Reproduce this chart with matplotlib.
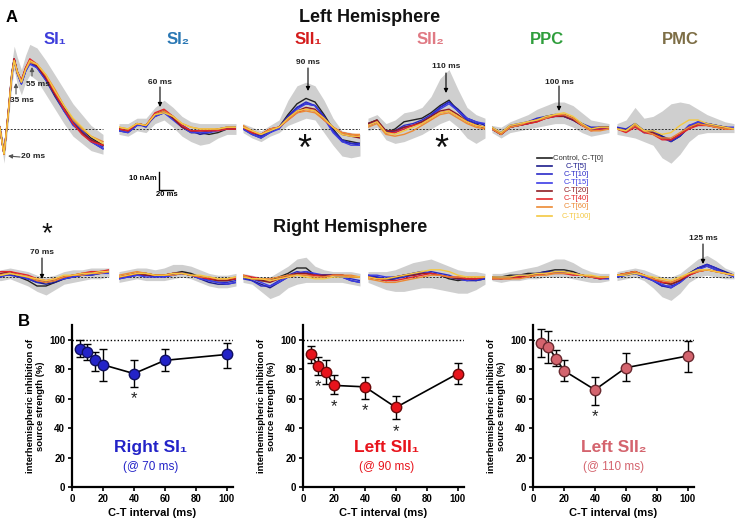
import numpy as np
import matplotlib.pyplot as plt

plt.rcParams['font.family'] = ['Liberation Sans', 'DejaVu Sans']

W, H = 736, 524

# ---- panel A: source waveforms (nAm), sampled at these latencies (ms)
T = [0, 15, 30, 45, 60, 75, 90, 105, 120, 135, 150, 165, 180, 195]
T_SI1 = [13, 20, 27, 33, 37, 42, 49, 56, 63, 75, 90, 105, 120, 135, 150, 165, 185]

CONDITIONS = ['Control, C-T[0]', 'C-T[5]', 'C-T[10]', 'C-T[15]',
              'C-T[20]', 'C-T[40]', 'C-T[60]', 'C-T[100]']
COND_COLORS = ['#222222', '#1c1c8c', '#2a2ac8', '#3c3ce6',
               '#8e1c22', '#e3262a', '#ec8a34', '#f4c842']

# left hemisphere, rows = conditions in CONDITIONS order
LH_SI1 = [
    [1, -14, 8, 30, 39, 32, 26, 33, 38, 35, 28, 20, 12, 5, 0, -5, -9],
    [1, -14, 9, 31, 39, 31, 25, 32, 37, 34, 27, 18, 10, 3, -2, -7, -11],
    [1, -14, 8, 30, 38, 31, 26, 33, 37, 35, 29, 20, 11, 4, -1, -6, -10],
    [1, -13, 8, 29, 38, 31, 25, 32, 36, 34, 27, 19, 10, 2, -2, -7, -11],
    [1, -14, 9, 31, 39, 32, 27, 34, 38, 35, 28, 19, 11, 3, -2, -6, -9],
    [1, -14, 9, 30, 39, 32, 27, 34, 39, 36, 29, 20, 11, 3, -3, -7, -9],
    [1, -14, 8, 30, 38, 31, 26, 33, 37, 36, 30, 22, 13, 5, 0, -4, -7],
    [1, -14, 8, 30, 38, 32, 26, 33, 38, 36, 30, 21, 13, 6, 1, -4, -8],
]
LH_SI1_HI = [3, -9, 14, 37, 46, 40, 33, 41, 47, 45, 38, 30, 22, 14, 8, 2, -3]
LH_SI1_LO = [-2, -19, 3, 24, 33, 25, 19, 26, 30, 27, 19, 11, 3, -4, -8, -12, -14]

LH_SI2 = [
    [0, -1, 3, 2, 8, 10, 6, 1, -2, -2, -3, -2, 0, 0],
    [-1, -2, 2, 2, 7, 9, 6, 2, -1, -3, -2, 0, 1, 1],
    [0, -1, 3, 1, 8, 10, 7, 2, -1, -2, -1, 0, 0, 1],
    [-1, -2, 2, 2, 7, 9, 5, 1, -2, -2, -2, -1, 0, 0],
    [0, -1, 3, 2, 8, 10, 6, 1, -1, -1, -1, 0, 0, 0],
    [0, -1, 3, 2, 9, 11, 7, 2, -1, -1, -1, -1, 0, 0],
    [1, 0, 3, 2, 8, 10, 7, 3, 1, 0, 0, 0, 1, 1],
    [1, 0, 3, 2, 8, 9, 7, 3, 1, 0, 0, 0, 1, 1],
]
LH_SI2_HI = [3, 3, 6, 6, 12, 16, 12, 7, 4, 3, 3, 3, 3, 3]
LH_SI2_LO = [-3, -4, -1, -2, 3, 5, 1, -4, -7, -9, -8, -5, -3, -3]

LH_SII1 = [
    [1, -2, -4, -1, 1, 8, 14, 17, 15, 8, 0, -6, -7, -8],
    [0, -3, -5, -2, 1, 7, 12, 14, 13, 7, -1, -7, -8, -9],
    [1, -2, -4, -1, 1, 7, 12, 15, 13, 7, -1, -6, -8, -8],
    [0, -3, -5, -2, 0, 6, 11, 14, 13, 6, -2, -7, -9, -9],
    [1, -2, -3, 0, 1, 6, 10, 12, 11, 6, 1, -3, -4, -5],
    [1, -2, -3, 0, 1, 5, 9, 11, 10, 5, 1, -2, -3, -4],
    [2, -1, -3, 0, 1, 5, 9, 10, 9, 5, 1, -2, -3, -3],
    [1, -1, -3, -1, 1, 6, 10, 11, 10, 6, 1, -3, -4, -4],
]
LH_SII1_HI = [3, 1, -1, 2, 5, 16, 24, 26, 24, 16, 6, -1, -2, -3]
LH_SII1_LO = [-2, -5, -7, -4, -2, 2, 4, 6, 5, -2, -9, -15, -16, -15]

LH_SII2 = [
    [3, 5, -2, 0, 4, 5, 6, 9, 13, 16, 10, 5, 3, 0],
    [2, 4, -2, -1, 1, 2, 4, 7, 12, 15, 11, 6, 4, 2],
    [3, 4, -1, -1, 2, 3, 5, 8, 12, 15, 10, 5, 3, 3],
    [2, 4, -2, -2, 1, 2, 4, 7, 11, 14, 10, 6, 4, 3],
    [3, 5, -1, -1, 1, 2, 4, 7, 10, 11, 8, 4, 2, 1],
    [2, 4, -2, -2, 0, 2, 3, 6, 9, 10, 7, 4, 2, 1],
    [1, 3, -3, -4, -3, -1, 2, 5, 8, 9, 6, 3, 1, 0],
    [2, 4, -2, -3, -1, 1, 3, 6, 9, 10, 7, 4, 2, 1],
]
LH_SII2_HI = [6, 8, 3, 5, 9, 10, 12, 18, 28, 33, 22, 12, 8, 6]
LH_SII2_LO = [-1, 1, -6, -8, -7, -5, -3, 0, 3, 5, 1, -5, -8, -5]

LH_PPC = [
    [0, -3, 1, 2, 3, 5, 7, 8, 8, 6, 3, 0, 1, 1],
    [0, -3, 1, 2, 4, 5, 6, 8, 7, 5, 2, 0, 0, 1],
    [1, -2, 2, 3, 4, 6, 7, 8, 7, 5, 3, 1, 1, 1],
    [0, -3, 1, 2, 3, 5, 6, 7, 7, 5, 2, 0, 0, 0],
    [0, -3, 1, 2, 3, 4, 6, 7, 7, 5, 2, 0, 1, 1],
    [0, -3, 1, 2, 3, 4, 6, 7, 8, 6, 2, -1, 0, 0],
    [0, -3, 1, 2, 4, 5, 6, 8, 8, 6, 2, -1, -1, 0],
    [1, -2, 2, 3, 4, 5, 7, 8, 9, 7, 3, 0, 1, 1],
]
LH_PPC_HI = [2, 1, 4, 6, 8, 11, 13, 15, 15, 13, 9, 5, 4, 3]
LH_PPC_LO = [-2, -5, -2, -1, 0, 1, 2, 3, 3, 1, -2, -4, -3, -2]

LH_PMC = [
    [0, -1, 3, -1, -1, -4, -7, -4, 1, 3, 3, 2, 1, 0],
    [0, -1, 2, -2, -1, -4, -6, -3, 2, 3, 3, 2, 1, 0],
    [1, 0, 3, -1, -1, -5, -7, -4, 1, 4, 3, 2, 1, 0],
    [0, -1, 2, -2, -2, -5, -6, -3, 2, 4, 3, 2, 1, 1],
    [0, -1, 2, -1, -2, -5, -6, -3, 1, 2, 2, 1, 1, 0],
    [0, -2, 1, -2, -3, -6, -6, -3, 0, 2, 2, 1, 0, 0],
    [0, -1, 2, -1, -3, -5, -5, -2, 1, 3, 2, 1, 0, 0],
    [0, -1, 3, -1, -1, -3, -2, 2, 5, 5, 3, 2, 1, 0],
]
LH_PMC_HI = [3, 5, 12, 6, 7, 10, 14, 15, 14, 11, 8, 6, 4, 3]
LH_PMC_LO = [-3, -4, -5, -7, -9, -16, -19, -14, -7, -3, -2, -2, -2, -2]

# right hemisphere
RH_SI1 = [
    [0, 0, 2, 0, -2, -5, -5, -3, -1, 0, 1, 1, 2, 3],
    [1, 1, 2, 1, -1, -3, -4, -3, -1, 0, 1, 2, 2, 3],
    [0, 1, 1, 0, -1, -3, -3, -2, 0, 1, 1, 2, 3, 3],
    [1, 0, 2, 1, -1, -2, -3, -2, -1, 0, 1, 1, 2, 2],
    [1, 2, 3, 1, 0, -2, -3, -2, 0, 1, 2, 2, 3, 3],
    [2, 3, 3, 2, 1, -1, -2, -1, 0, 1, 2, 3, 3, 4],
    [1, 1, 2, 1, 0, -2, -3, -2, 0, 1, 1, 2, 2, 3],
    [1, 1, 2, 1, 0, -1, -2, -1, 1, 1, 2, 2, 3, 3],
]
RH_SI1_HI = [3, 4, 5, 4, 3, 1, 0, 1, 3, 4, 4, 5, 5, 5]
RH_SI1_LO = [-2, -2, -1, -3, -5, -8, -10, -7, -4, -3, -2, -1, -1, 0]

RH_SI2 = [
    [0, 1, 2, 2, 1, 1, 2, 3, 2, 0, -1, -2, -2, -1],
    [-1, 0, 1, 1, 0, 1, 2, 2, 1, -1, -3, -4, -4, -3],
    [0, 0, 1, 1, 1, 0, 1, 2, 1, 0, -2, -3, -3, -2],
    [-1, 0, 1, 0, 0, 0, 1, 2, 1, -1, -2, -3, -4, -3],
    [0, 1, 2, 1, 1, 1, 2, 2, 1, 0, -1, -2, -2, -1],
    [0, 1, 2, 2, 1, 1, 2, 2, 1, 0, -1, -1, -1, -1],
    [1, 2, 3, 2, 1, 1, 1, 2, 1, 0, 0, -1, -1, 0],
    [0, 1, 2, 2, 1, 1, 2, 2, 1, 1, 0, -1, -1, 0],
]
RH_SI2_HI = [3, 4, 5, 5, 4, 5, 7, 7, 6, 4, 2, 1, 1, 2]
RH_SI2_LO = [-3, -2, -1, -2, -2, -2, -1, 0, -1, -3, -5, -6, -6, -5]

RH_SII1 = [
    [0, -1, -2, -2, 0, 2, 5, 5, 1, 1, 1, 1, 0, 0],
    [0, -2, -4, -6, -3, 0, 2, 3, 1, 1, 1, 0, -2, -3],
    [-1, -2, -5, -5, -2, 1, 3, 2, 1, 1, 1, 0, -1, -2],
    [0, -1, -3, -5, -3, 0, 2, 3, 2, 1, 1, 0, -2, -3],
    [0, -1, -2, -3, -1, 1, 2, 2, 1, 1, 1, 1, 0, 0],
    [1, 0, -1, -2, -1, 0, 1, 1, 1, 0, 1, 1, 0, 0],
    [1, -1, -1, -1, 0, 1, 1, 1, 0, 0, 1, 1, 1, 0],
    [0, -1, -1, -2, -1, 0, 1, 0, -1, -1, 0, 0, 0, 0],
]
RH_SII1_HI = [2, 1, 0, 0, 3, 6, 10, 11, 6, 4, 3, 3, 3, 2]
RH_SII1_LO = [-3, -4, -8, -12, -10, -6, -4, -3, -3, -3, -3, -3, -4, -5]

RH_SII2 = [
    [0, -1, -2, -1, 1, 2, 3, 2, 1, -1, -2, -1, -1, 0],
    [1, 0, -1, 0, 1, 1, 2, 2, 1, 0, -1, -2, -2, -1],
    [0, 0, -1, -1, 0, 1, 2, 3, 2, 1, -1, -1, -2, -1],
    [1, 1, 0, 0, 1, 2, 3, 2, 1, 0, -1, -2, -1, 0],
    [0, -1, -1, 0, 1, 1, 2, 2, 1, 0, -1, -1, -1, 0],
    [0, -1, -2, -2, -1, 0, 1, 2, 1, 0, 0, -1, -1, 0],
    [-1, -2, -3, -3, -2, -1, 0, 1, 1, 0, 0, 0, 0, 0],
    [0, -1, -1, 0, 1, 2, 3, 4, 4, 3, 1, 0, 0, 0],
]
RH_SII2_HI = [3, 3, 3, 4, 6, 8, 9, 10, 8, 6, 4, 3, 3, 2]
RH_SII2_LO = [-3, -5, -7, -8, -8, -7, -6, -6, -7, -8, -9, -9, -7, -4]

RH_PPC = [
    [0, 0, 1, 1, 2, 2, 3, 4, 4, 3, 1, 0, -1, 0],
    [0, -1, 0, 1, 1, 2, 3, 3, 3, 2, 1, 0, 0, 0],
    [-1, -1, 0, 0, 1, 2, 2, 3, 3, 2, 1, 0, -1, -1],
    [0, 0, 0, 1, 1, 1, 2, 3, 2, 2, 1, 0, 0, 0],
    [0, -1, 0, 0, 1, 1, 2, 2, 2, 2, 1, 0, 0, 0],
    [-1, -1, -1, 0, 0, 1, 2, 2, 2, 1, 1, 0, -1, 0],
    [-1, -1, -1, -1, 0, 1, 1, 2, 2, 2, 1, 0, 0, 0],
    [0, 0, 0, 1, 1, 2, 2, 3, 3, 2, 1, 1, 0, 0],
]
RH_PPC_HI = [2, 2, 3, 4, 5, 6, 8, 10, 10, 8, 5, 3, 2, 2]
RH_PPC_LO = [-2, -3, -2, -2, -1, -1, 0, 0, 0, -1, -2, -3, -3, -2]

RH_PMC = [
    [1, 2, 3, 1, -1, -3, -4, -2, 2, 5, 6, 4, 2, 1],
    [0, 1, 2, 0, -2, -5, -6, -3, 2, 5, 7, 5, 3, 1],
    [1, 1, 2, 1, -2, -5, -5, -3, 1, 5, 7, 5, 2, 1],
    [0, 1, 2, 0, -2, -4, -6, -3, 1, 4, 6, 4, 2, 0],
    [1, 2, 3, 1, -1, -3, -4, -2, 1, 3, 4, 3, 2, 1],
    [1, 2, 3, 1, -1, -3, -3, -1, 1, 3, 4, 3, 2, 1],
    [1, 2, 3, 1, -1, -2, -3, -1, 2, 3, 4, 3, 2, 1],
    [1, 1, 2, 1, 0, -1, -2, 0, 2, 4, 4, 3, 2, 1],
]
RH_PMC_HI = [3, 4, 5, 4, 2, 0, 0, 2, 6, 10, 12, 9, 5, 3]
RH_PMC_LO = [-2, -1, 0, -2, -6, -11, -13, -9, -3, 0, 1, 0, -1, -1]

REGIONS = ['SI\u2081', 'SI\u2082', 'SII\u2081', 'SII\u2082', 'PPC', 'PMC']
REGION_COLORS = ['#3d3ddb', '#2b78b4', '#d41c1c', '#e07a84', '#2f9e3c', '#7d6e46']

# ---- panel B: inhibition of source strength (%)
CT = [5, 10, 15, 20, 40, 60, 100]
R_SI1_MEAN = [94, 92, 86, 83, 77, 86, 90]
R_SI1_LO = [88, 86, 79, 72, 68, 79, 81]
R_SI1_HI = [100, 97, 92, 94, 86, 94, 98]
R_SI1_SIG = [40]
L_SII1_MEAN = [90, 82, 78, 69, 68, 54, 77]
L_SII1_LO = [84, 76, 70, 63, 60, 46, 70]
L_SII1_HI = [96, 88, 86, 76, 75, 62, 84]
L_SII1_SIG = [10, 20, 40, 60]
L_SII2_MEAN = [98, 95, 87, 79, 66, 81, 89]
L_SII2_LO = [88, 84, 82, 72, 56, 72, 78]
L_SII2_HI = [107, 106, 93, 86, 75, 91, 99]
L_SII2_SIG = [40]

fig = plt.figure(figsize=(W / 100, H / 100), dpi=100)


def px_axes(x0, y0, x1, y1):
    return fig.add_axes([x0 / W, 1 - y1 / H, (x1 - x0) / W, (y1 - y0) / H])


PX_MS = 0.6     # horizontal scale: 20 ms = 12 px
PX_NAM = 1.8    # vertical scale: 10 nAm = 18 px
PANEL_X = [-8, 119, 243, 368, 492, 617]


def wave_panel(x_left, top, bottom, base, times, traces, hi, lo):
    ax = px_axes(x_left, top, x_left + 195 * PX_MS, bottom)
    ax.set_xlim(0, 195)
    ax.set_ylim(-(bottom - base) / PX_NAM, (base - top) / PX_NAM)
    ax.axis('off')
    ax.fill_between(times, lo, hi, color='#cfcfcf', lw=0, zorder=1)
    ax.plot([times[0], times[-1]], [0, 0], color='#333333', lw=0.7,
            ls=(0, (2, 1.5)), zorder=2)
    for tr, c in zip(traces, COND_COLORS):
        ax.plot(times, tr, color=c, lw=1.0, zorder=3)
    return ax


lh = [(T_SI1, LH_SI1, LH_SI1_HI, LH_SI1_LO), (T, LH_SI2, LH_SI2_HI, LH_SI2_LO),
      (T, LH_SII1, LH_SII1_HI, LH_SII1_LO), (T, LH_SII2, LH_SII2_HI, LH_SII2_LO),
      (T, LH_PPC, LH_PPC_HI, LH_PPC_LO), (T, LH_PMC, LH_PMC_HI, LH_PMC_LO)]
rh = [(T, RH_SI1, RH_SI1_HI, RH_SI1_LO), (T, RH_SI2, RH_SI2_HI, RH_SI2_LO),
      (T, RH_SII1, RH_SII1_HI, RH_SII1_LO), (T, RH_SII2, RH_SII2_HI, RH_SII2_LO),
      (T, RH_PPC, RH_PPC_HI, RH_PPC_LO), (T, RH_PMC, RH_PMC_HI, RH_PMC_LO)]

for xl, (tt, tr, hi, lo) in zip(PANEL_X, lh):
    wave_panel(xl, 40, 170, 129, tt, tr, hi, lo)
for xl, (tt, tr, hi, lo) in zip(PANEL_X, rh):
    wave_panel(xl, 240, 310, 277, tt, tr, hi, lo)


def ratio_panel(x0, mean, lo, hi, sig, color, edge, name, latency, name_x):
    ax = px_axes(x0, 325, x0 + 161, 487)
    ax.set_xlim(0, 104)
    ax.set_ylim(0, 110)
    for s in ['top', 'right']:
        ax.spines[s].set_visible(False)
    for s in ['left', 'bottom']:
        ax.spines[s].set_linewidth(1.6)
    ax.axhline(100, color='k', lw=1.0, ls=(0, (1, 1.5)), zorder=1)
    m = np.array(mean)
    yerr = [m - np.array(lo), np.array(hi) - m]
    ax.errorbar(CT, mean, yerr=yerr, color='k', lw=1.2, capsize=3, capthick=1.0,
                elinewidth=1.0, marker='o', markersize=7.5, markerfacecolor=color,
                markeredgecolor=edge, markeredgewidth=1.0, zorder=3)
    for x in sig:
        y = lo[CT.index(x)]
        ax.text(x, y - 3, '*', ha='center', va='top', fontsize=12, color='#222222')
    ax.set_xticks([0, 20, 40, 60, 80, 100])
    ax.set_yticks([0, 20, 40, 60, 80, 100])
    ax.tick_params(direction='out', length=3, width=1.2, labelsize=7, pad=2)
    for lab in ax.get_xticklabels() + ax.get_yticklabels():
        lab.set_fontweight('bold')
    ax.set_xlabel('C-T interval (ms)', fontsize=8, fontweight='bold', labelpad=3)
    ax.set_ylabel('interhemispheric inhibition of\nsource strength (%)',
                  fontsize=6.8, fontweight='bold', labelpad=3, linespacing=1.1)
    ax.text(name_x, 26.5, name, color=color, fontsize=12.5,
            fontweight='bold', ha='center', va='center')
    ax.text(name_x, 13.5, latency, color=color, fontsize=8.5,
            ha='center', va='center')
    return ax


ratio_panel(72, R_SI1_MEAN, R_SI1_LO, R_SI1_HI, R_SI1_SIG, '#2323c8', '#101060',
            'Right SI\u2081', '(@ 70 ms)', 51)
ratio_panel(303, L_SII1_MEAN, L_SII1_LO, L_SII1_HI, L_SII1_SIG, '#e8141c', '#6a0a0a',
            'Left SII\u2081', '(@ 90 ms)', 54)
ratio_panel(533, L_SII2_MEAN, L_SII2_LO, L_SII2_HI, L_SII2_SIG, '#d4646e', '#6a2a30',
            'Left SII\u2082', '(@ 110 ms)', 52)

# ---- overlay for labels, arrows, scale bar and legend (figure pixel coords)
ov = fig.add_axes([0, 0, 1, 1])
ov.set_xlim(0, W)
ov.set_ylim(H, 0)
ov.axis('off')
ov.patch.set_visible(False)

ov.text(6, 17, 'A', fontsize=12, fontweight='bold', va='center')
ov.text(18, 322, 'B', fontsize=12, fontweight='bold', va='center')
ov.text(370, 18, 'Left Hemisphere', fontsize=13, fontweight='bold', ha='center',
        va='center', color='#111111')
ov.text(350, 228, 'Right Hemisphere', fontsize=13, fontweight='bold', ha='center',
        va='center', color='#111111')

title_x = [55, 178, 308, 430, 547, 680]
for x, name, c in zip(title_x, REGIONS, REGION_COLORS):
    ov.text(x, 40, name, fontsize=12, fontweight='bold', color=c, ha='center',
            va='center')


def arrow(x0, y0, x1, y1, color='k'):
    ov.annotate('', xy=(x1, y1), xytext=(x0, y0),
                arrowprops=dict(arrowstyle='-|>', color=color, lw=0.8,
                                mutation_scale=6, shrinkA=0, shrinkB=0))


lab = dict(fontsize=6, fontweight='bold', ha='center', va='center', color='#222222')
ov.text(22, 100, '35 ms', **lab)
arrow(16, 94, 16, 83, '#555555')
ov.text(38, 85, '55 ms', **lab)
arrow(32, 76, 32, 67, '#555555')
ov.text(33, 157, '20 ms', **lab)
arrow(20, 157, 8, 156, '#555555')
ov.text(160, 82, '60 ms', **lab)
arrow(160, 87, 160, 107)
ov.text(308, 63, '90 ms', **lab)
arrow(308, 68, 308, 91)
ov.text(446, 67, '110 ms', **lab)
arrow(446, 73, 446, 93)
ov.text(559, 82, '100 ms', **lab)
arrow(559, 86, 559, 111)
ov.text(42, 253, '70 ms', **lab)
arrow(42, 258, 42, 279)
ov.text(703, 238, '125 ms', **lab)
arrow(703, 244, 703, 264)

for x, y, fs in [(304, 150, 26), (441, 150, 26), (47, 234, 20)]:
    ov.text(x, y, '*', fontsize=fs, ha='center', va='center', color='#111111')

# scale bar
ov.plot([159, 159, 173], [172, 190, 190], color='k', lw=1.0)
ov.text(157, 179, '10 nAm', fontsize=5.5, fontweight='bold', ha='right', va='center')
ov.text(167, 195, '20 ms', fontsize=5.5, fontweight='bold', ha='center', va='center')

# legend
leg_y = [158, 166, 174, 183, 191, 199, 207, 216]
for y, name, c in zip(leg_y, CONDITIONS, COND_COLORS):
    ov.plot([537, 552], [y, y], color=c, lw=1.2)
    if name.startswith('Control'):
        ov.text(553, y, name, fontsize=5.5, color='#333333', ha='left', va='center')
    else:
        ov.text(576, y, name, fontsize=5.5, color=c, ha='center', va='center')

fig.savefig('out.png', dpi=100)
